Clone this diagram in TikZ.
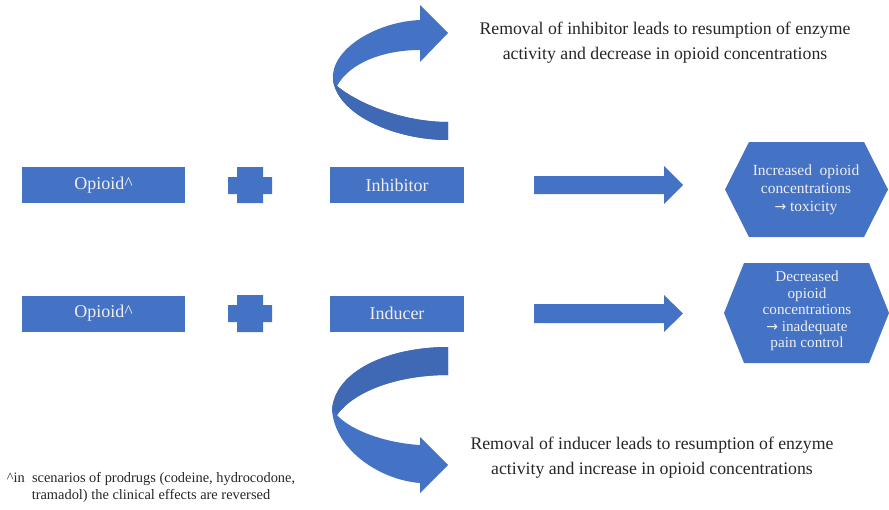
\documentclass[tikz,border=0pt]{standalone}
\usepackage{fontspec}
\setmainfont{Liberation Serif}
\newfontfamily\arrfont{DejaVu Sans}
\definecolor{ppblue}{HTML}{4472C4}
\definecolor{ppdark}{HTML}{3F68B5}
\definecolor{txtgrey}{HTML}{262626}
\definecolor{boxtxt}{HTML}{EEEEEE}
\begin{document}
\begin{tikzpicture}[x=0.75pt,y=-0.75pt,
  blockbox/.style={fill=ppblue, text=boxtxt, minimum height=27pt, inner sep=0pt, font=\fontsize{13.5}{15}\selectfont},
  hextext/.style={text=boxtxt, align=center, inner sep=0pt, font=\fontsize{11.6}{13.5}\selectfont},
  note/.style={text=txtgrey, align=center, inner sep=0pt, font=\fontsize{13.3}{18.75}\selectfont},
  shapefill/.style={fill=ppblue}]
\useasboundingbox (0,0) rectangle (889,510);

% boxes
\node[blockbox, minimum width=122.25pt] (op1) at (103.5,185) {Opioid\^{}};
\node[blockbox, minimum width=100.5pt] (inh) at (397,185) {Inhibitor};
\node[blockbox, minimum width=122.25pt] (op2) at (103.5,313.5) {Opioid\^{}};
\node[blockbox, minimum width=100.5pt] (ind) at (397,313.5) {Inducer};

% plus signs
\fill[shapefill] (237,167) -- (263,167) -- (263,177) -- (272,177) -- (272,194) -- (263,194) -- (263,203) -- (237,203) -- (237,194) -- (228,194) -- (228,177) -- (237,177) -- cycle;
\fill[shapefill] (237,295) -- (263,295) -- (263,305) -- (272,305) -- (272,322) -- (263,322) -- (263,332) -- (237,332) -- (237,322) -- (228,322) -- (228,305) -- (237,305) -- cycle;

% right block arrows
\fill[shapefill] (534,176) -- (664,176) -- (664,166) -- (683,185) -- (664,204) -- (664,194) -- (534,194) -- cycle;
\fill[shapefill] (534,304) -- (664,304) -- (664,295) -- (683,313.5) -- (664,332) -- (664,323) -- (534,323) -- cycle;

% hexagons
\fill[shapefill] (725,189.5) -- (749,142) -- (864,142) -- (888,189.5) -- (864,237) -- (749,237) -- cycle;
\fill[shapefill] (724,313) -- (744,263) -- (869,263) -- (889,313) -- (869,363) -- (744,363) -- cycle;
\node[hextext] (res1) at (806,190) {Increased\ \ opioid\\concentrations\\{\arrfont\fontsize{10.5}{12}\selectfont →} toxicity};
\node[hextext, font=\fontsize{11.4}{12.4}\selectfont] (res2) at (807,311) {Decreased\\opioid\\concentrations\\{\arrfont\fontsize{10.5}{12}\selectfont →} inadequate\\pain control};

% curved arrows
\fill[ppblue] (448,140) .. controls (395,140) and (338,115) .. (333,80) .. controls (330,50) and (375,22) .. (420,20) -- (420,5) -- (448,33) -- (420,62) -- (420,50) .. controls (385,50) and (350,62) .. (337,86) .. controls (360,105) and (405,122) .. (448,122) -- cycle;
\fill[ppdark] (448,140) .. controls (395,140) and (338,115) .. (333,80) -- (337,86) .. controls (360,105) and (405,122) .. (448,122) -- cycle;

\fill[ppblue] (448,347) .. controls (390,347) and (335,370) .. (332,410) .. controls (335,450) and (380,480) .. (420,483) -- (420,493) -- (448,465) -- (420,437) -- (420,445) .. controls (385,443) and (350,430) .. (337,415) .. controls (355,390) and (400,375) .. (448,375) -- cycle;
\fill[ppdark] (448,347) .. controls (390,347) and (335,370) .. (332,410) -- (337,415) .. controls (355,390) and (400,375) .. (448,375) -- cycle;

% texts
\node[note] (t1) at (665,42.5) {Removal of inhibitor leads to resumption of enzyme\\activity and decrease in opioid concentrations};
\node[note] (t2) at (652,457.5) {Removal of inducer leads to resumption of enzyme\\activity and increase in opioid concentrations};
\node[note, font=\fontsize{10.8}{12.75}\selectfont] (fn) at (151,487.5) {\^{}in\ \ scenarios of prodrugs (codeine, hydrocodone,\\tramadol) the clinical effects are reversed};
\end{tikzpicture}
\end{document}
